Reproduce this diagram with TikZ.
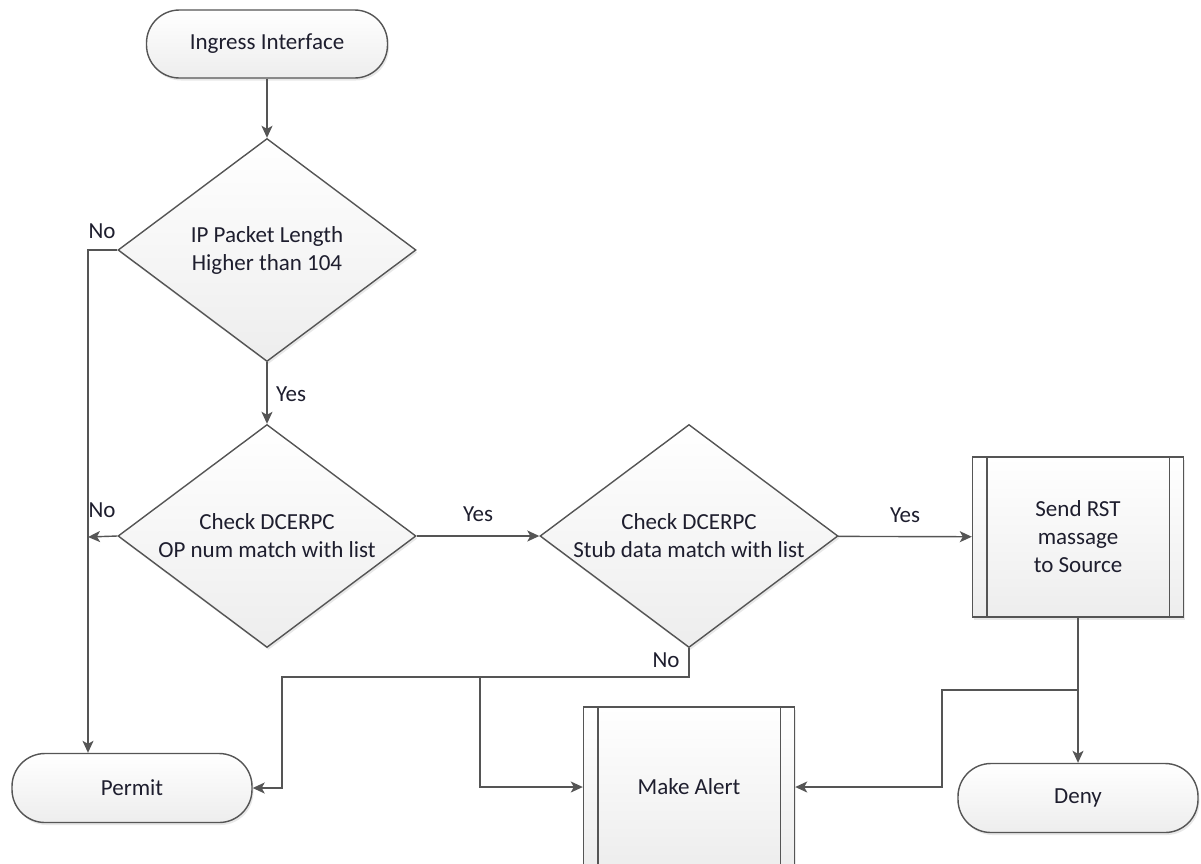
\documentclass[tikz,border=0pt]{standalone}
\usepackage{fontspec}
\setmainfont{Carlito}
\usetikzlibrary{shapes.geometric,arrows.meta,shadows}
\definecolor{edge}{HTML}{555555}
\definecolor{ink}{HTML}{1E1E2E}
\begin{document}
\begin{tikzpicture}[x=1pt,y=-1pt,
  font=\fontsize{23}{28}\selectfont, text=ink,
  box/.style={draw=edge, line width=1.4pt, top color=white, bottom color=black!7,
    drop shadow={shadow xshift=1.5pt, shadow yshift=-2.5pt, opacity=0.18}},
  term/.style={box, rectangle, rounded corners=33pt, minimum width=241pt, minimum height=68pt, inner sep=0pt},
  decision/.style={box, diamond, aspect=1.336, minimum width=298pt, minimum height=223pt, inner sep=0pt, align=center},
  proc/.style={box, rectangle, minimum width=211pt, minimum height=160pt, inner sep=0pt, align=center},
  flow/.style={draw=edge, line width=1.4pt, -{Stealth[length=12pt,width=11pt,inset=3pt]}},
  lbl/.style={inner sep=0pt}
]
\useasboundingbox (0,0) rectangle (1201,863);
\clip (0,0) rectangle (1201,863);

% shapes
\node[term] (ing) at (267,44) {Ingress Interface};
\node[decision] (d1) at (267,250) {IP Packet Length\\Higher than 104};
\node[decision] (d2) at (267,536) {Check DCERPC\\OP num match with list};
\node[decision] (d3) at (689,536) {Check DCERPC\\Stub data match with list};
\node[proc] (rst) at (1078,537) {Send RST\\massage\\to Source};
\node[proc] (alert) at (689,787) {Make Alert};
\node[term, minimum width=240pt, minimum height=69pt] (permit) at (132,788) {Permit};
\node[term, minimum width=240pt, minimum height=69pt] (deny) at (1078,798) {Deny};

% inner bars of the predefined-process boxes
\foreach \n in {rst,alert}{
  \draw[edge, line width=1.4pt] ([xshift=15pt]\n.north west) -- ([xshift=15pt]\n.south west);
  \draw[edge, line width=1.4pt] ([xshift=-15pt]\n.north east) -- ([xshift=-15pt]\n.south east);
}

% junction points
\coordinate (j2) at (88,537);
\coordinate (bus) at (282,677);
\coordinate (tap) at (480,677);
\coordinate (split) at (1078,690);
\coordinate (turn) at (942,690);

% connectors
\draw[flow] (ing) -- (d1);
\draw[flow] (d1.west) -| ([xshift=-44pt]permit.north);
\draw[flow] (d1) -- (d2);
\draw[flow] (d2.west) -- (j2);
\draw[flow] (d2) -- (d3);
\draw[flow] (d3) -- (rst);
\draw[flow] (d3.south) |- (bus) |- (permit.east);
\draw[flow] (tap) |- (alert.west);
\draw[flow] (rst) -- (deny);
\draw[flow] (split) -- (turn) |- (alert.east);

% branch labels
\node[lbl] (l1) at (102,231) {No};
\node[lbl] (l2) at (291,394) {Yes};
\node[lbl] (l3) at (102,510) {No};
\node[lbl] (l4) at (478,514) {Yes};
\node[lbl] (l5) at (905,515) {Yes};
\node[lbl] (l6) at (666,660) {No};
\end{tikzpicture}
\end{document}
